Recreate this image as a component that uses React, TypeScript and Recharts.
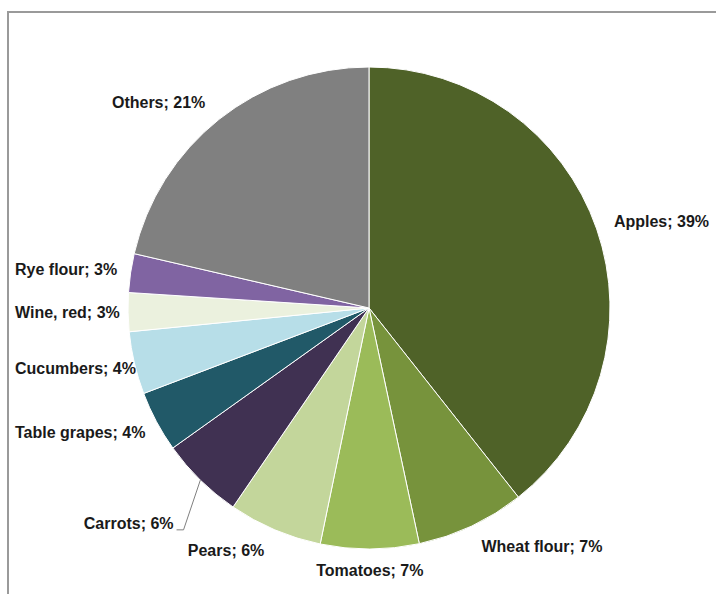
import React from 'react';
import { PieChart, Pie, Cell } from 'recharts';

const categories = [
  'Apples',
  'Wheat flour',
  'Tomatoes',
  'Pears',
  'Carrots',
  'Table grapes',
  'Cucumbers',
  'Wine, red',
  'Rye flour',
  'Others',
];
const shares = [39.4, 7.3, 6.6, 6.3, 5.6, 4.1, 4.2, 2.6, 2.6, 21.4];
const colors = [
  '#4f6228',
  '#77933c',
  '#9bbb59',
  '#c3d69b',
  '#403152',
  '#215968',
  '#b7dee8',
  '#ebf1de',
  '#8064a2',
  '#808080',
];

const data = categories.map((name, i) => ({ name, value: shares[i] }));

// labels moved away from their default spot (drawn with a leader line)
const movedLabels: Record<string, [number, number]> = { Carrots: [-12, 28] };

const FONT = 'bold 16px "Liberation Sans", Arial, sans-serif';
const LEFT_LIMIT = 15;
const RAD = Math.PI / 180;

let ctx: CanvasRenderingContext2D | null = null;
const measure = (t: string) => {
  if (!ctx) {
    ctx = document.createElement('canvas').getContext('2d');
  }
  if (!ctx) return t.length * 8;
  ctx.font = FONT;
  return ctx.measureText(t).width;
};

const renderLabel = (props: any) => {
  const { cx, cy, midAngle, outerRadius, percent, name } = props;
  const dx = Math.cos(-midAngle * RAD);
  const dy = Math.sin(-midAngle * RAD);
  const R = outerRadius + 14;
  const px = cx + R * dx;
  const py = cy + R * dy;
  const text = `${name}; ${Math.round(percent * 100)}%`;
  const w = measure(text);
  let anchor: 'start' | 'end' | 'middle' = 'middle';
  let x = px;
  if (dx > 0.3) {
    anchor = 'start';
    x = px + 4;
  } else if (dx < -0.3) {
    anchor = 'end';
    x = px - 5;
  }
  let y = py + 8 * dy;
  if (anchor === 'end' && x - w < LEFT_LIMIT) {
    anchor = 'start';
    x = LEFT_LIMIT;
  }
  const moved = movedLabels[name];
  let leader = null;
  if (moved) {
    x += moved[0];
    y += moved[1];
    const ex = cx + outerRadius * dx;
    const ey = cy + outerRadius * dy;
    const ly = y + 6;
    leader = (
      <polyline
        points={`${ex},${ey} ${x + 10},${ly} ${x + 3},${ly}`}
        fill="none"
        stroke="#7f7f7f"
        strokeWidth={1}
      />
    );
  }
  return (
    <g>
      {leader}
      <text
        x={x}
        y={y}
        textAnchor={anchor}
        dominantBaseline="central"
        fill="#1a1a1a"
        style={{ font: FONT }}
      >
        {text}
      </text>
    </g>
  );
};

export default function App() {
  return (
    <div
      style={{
        position: 'absolute',
        left: 0,
        top: 0,
        width: 716,
        height: 594,
        overflow: 'hidden',
        background: '#fff',
      }}
    >
      <div
        style={{
          position: 'absolute',
          left: 7,
          top: 11,
          width: 1000,
          height: 1000,
          borderLeft: '2px solid #9a9a9a',
          borderTop: '2px solid #9a9a9a',
        }}
      />
      <div style={{ position: 'absolute', left: 0, top: 0 }}>
        <PieChart width={716} height={594} margin={{ top: 0, right: 0, bottom: 0, left: 0 }}>
          <Pie
            data={data}
            dataKey="value"
            nameKey="name"
            cx={369}
            cy={308}
            outerRadius={241}
            startAngle={90}
            endAngle={-270}
            stroke="#ffffff"
            strokeWidth={1}
            labelLine={false}
            label={renderLabel}
            isAnimationActive={false}
          >
            {data.map((d, i) => (
              <Cell key={d.name} fill={colors[i]} />
            ))}
          </Pie>
        </PieChart>
      </div>
    </div>
  );
}
